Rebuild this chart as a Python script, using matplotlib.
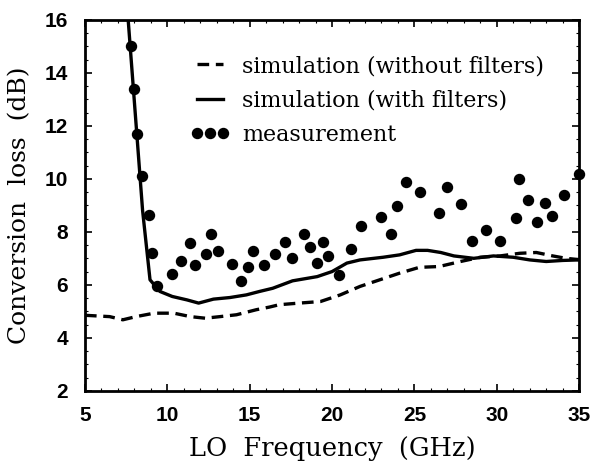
import matplotlib
matplotlib.use("Agg")
import matplotlib.pyplot as plt
from matplotlib.ticker import MultipleLocator

# simulasi tanpa filter (garis putus-putus)
f_nofilt = [5.0, 6.5, 7.3, 8.1, 9.2, 10.4, 11.4, 12.3, 13.2, 14.2, 15.4, 16.2, 16.8,
            18.0, 19.3, 20.5, 21.7, 22.9, 24.1, 25.3, 26.5, 27.8, 29.0, 30.2, 31.4,
            32.4, 33.4, 34.2, 35.0]
cl_nofilt = [4.85, 4.80, 4.68, 4.80, 4.93, 4.93, 4.80, 4.74, 4.80, 4.87, 5.06, 5.16, 5.25,
             5.31, 5.37, 5.62, 5.94, 6.19, 6.44, 6.66, 6.69, 6.88, 7.04, 7.09, 7.19,
             7.22, 7.09, 7.00, 6.95]

# simulasi dengan filter (garis penuh)
f_filt = [7.6, 8.5, 8.95, 9.55, 10.3, 11.2, 11.9, 12.8, 13.8, 14.8, 15.6, 16.4, 17.6,
          19.1, 20.0, 20.9, 21.7, 23.1, 24.1, 25.1, 25.8, 26.6, 27.4, 28.6, 29.8,
          31.0, 32.0, 33.0, 34.0, 35.0]
cl_filt = [16.2, 8.8, 6.19, 5.75, 5.56, 5.43, 5.31, 5.46, 5.52, 5.62, 5.75, 5.87, 6.15,
           6.31, 6.50, 6.82, 6.94, 7.04, 7.13, 7.30, 7.30, 7.22, 7.09, 7.00, 7.09,
           7.04, 6.94, 6.88, 6.92, 6.94]

# hasil pengukuran (titik)
f_meas = [7.79, 8.00, 8.16, 8.45, 8.89, 9.09, 9.35, 10.26, 10.83, 11.38, 11.68, 12.33,
          12.67, 13.09, 13.94, 14.47, 14.88, 15.22, 15.87, 16.54, 17.14, 17.55, 18.31,
          18.66, 19.06, 19.47, 19.77, 20.44, 21.13, 21.74, 22.97, 23.58, 23.96, 24.47,
          25.34, 26.51, 26.96, 27.83, 28.48, 29.35, 30.20, 31.17, 31.37, 31.88, 32.42,
          32.93, 33.37, 34.08, 35.0]
cl_meas = [15.0, 13.4, 11.7, 10.12, 8.64, 7.20, 5.94, 6.40, 6.91, 7.57, 6.74, 7.16,
           7.92, 7.28, 6.78, 6.15, 6.69, 7.28, 6.74, 7.16, 7.63, 7.03, 7.91,
           7.41, 6.82, 7.60, 7.09, 6.38, 7.36, 8.22, 8.55, 7.90, 8.98, 9.88,
           9.52, 8.71, 9.71, 9.05, 7.67, 8.05, 7.67, 8.52, 10.0, 9.21, 8.37,
           9.08, 8.58, 9.40, 10.19]

serif = "DejaVu Serif"

fig = plt.figure(figsize=(5.94, 4.72), dpi=100)
ax = fig.add_axes([0.143, 0.172, 0.832, 0.786])

ax.plot(f_nofilt, cl_nofilt, color="black", lw=2.4, dashes=(3.5, 2),
        label="simulation (without filters)")
ax.plot(f_filt, cl_filt, color="black", lw=2.4, label="simulation (with filters)")
ax.plot(f_meas, cl_meas, "o", color="black", ms=7.2, label="measurement",
        clip_on=False)

ax.set_xlim(5, 35)
ax.set_ylim(2, 16)
ax.xaxis.set_major_locator(MultipleLocator(5))
ax.yaxis.set_major_locator(MultipleLocator(2))
ax.xaxis.set_minor_locator(MultipleLocator(1))
ax.yaxis.set_minor_locator(MultipleLocator(0.5))
ax.tick_params(which="both", direction="in", top=True, right=True)
ax.tick_params(which="major", length=5, width=1.2, labelsize=15)
ax.tick_params(axis="x", which="major", pad=11)
ax.tick_params(axis="y", which="major", pad=12)
ax.tick_params(which="minor", length=2.5, width=0.8)
for lab in ax.get_xticklabels() + ax.get_yticklabels():
    lab.set_fontfamily("Liberation Sans")
    lab.set_fontweight("bold")
for s in ax.spines.values():
    s.set_linewidth(2)

ax.set_xlabel("LO  Frequency  (GHz)", fontsize=18.5, family=serif, labelpad=8)
ax.set_ylabel("Conversion  loss  (dB)", fontsize=18, family=serif, labelpad=10)

ax.legend(loc="upper left", bbox_to_anchor=(0.2126, 0.905), frameon=False,
          numpoints=3, handlelength=1.8, handletextpad=0.55, labelspacing=0.55,
          borderpad=0, borderaxespad=0,
          prop={"family": serif, "size": 16})

fig.savefig("out.png", dpi=100)
